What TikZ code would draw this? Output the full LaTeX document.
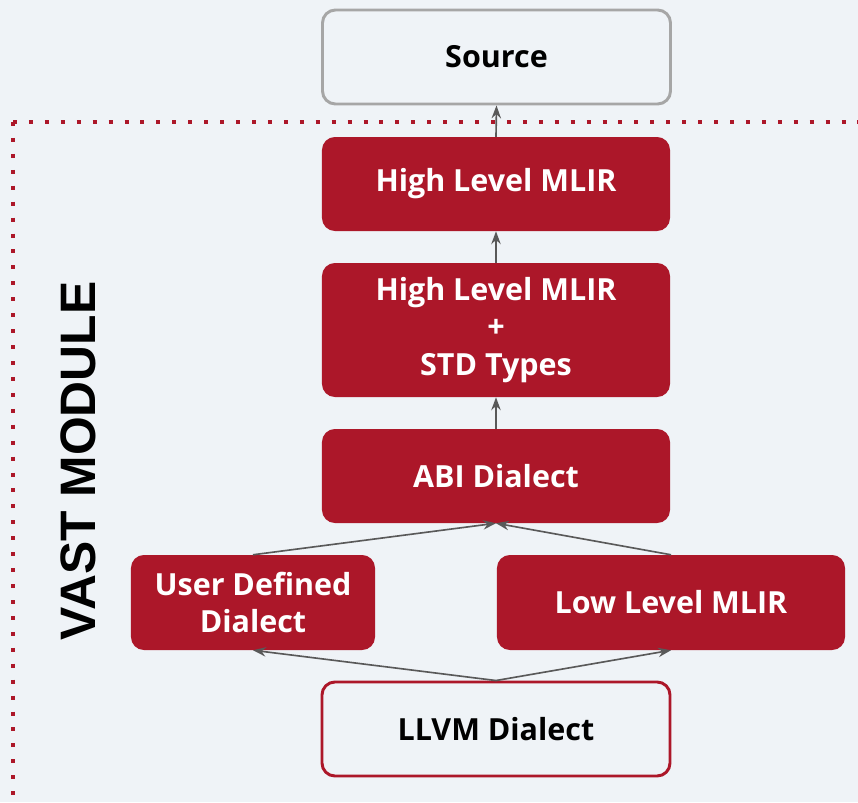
\documentclass[tikz,border=0pt]{standalone}
\usepackage{fontspec}
\setmainfont{Open Sans}
\newfontfamily\titlefont{Liberation Sans}
\usetikzlibrary{arrows.meta}

\definecolor{vastred}{RGB}{172,23,41}
\definecolor{bggray}{RGB}{239,243,247}
\definecolor{edgegray}{RGB}{166,166,166}
\definecolor{arrowgray}{RGB}{89,89,89}

\begin{document}
\begin{tikzpicture}[x=0.03cm,y=-0.03cm,
    block/.style={rectangle, rounded corners=11pt, minimum width=10.44cm, minimum height=2.82cm,
        align=center, font=\bfseries\fontsize{26}{32.3}\selectfont},
    redblock/.style={block, fill=vastred, text=white},
    outblock/.style={block, fill=bggray, line width=2.5pt},
    flow/.style={draw=arrowgray, line width=1.4pt, -{Stealth[length=11pt,width=8pt]}}]

    % Canvas and background
    \useasboundingbox (0,0) rectangle (858,802);
    \fill[bggray] (0,0) rectangle (858,802);

    % Dotted module frame
    \begin{scope}
        \clip (0,0) rectangle (858,802);
        \draw[vastred, line width=3.4pt, dash pattern=on 3.4pt off 10.2pt] (13,122) -- (880,122);
        \draw[vastred, line width=3.4pt, dash pattern=on 3.4pt off 10.2pt] (13,122) -- (13,830);
    \end{scope}

    % Blocks
    \node[outblock, draw=edgegray] (src) at (496.5,57) {Source};
    \node[redblock] (hl) at (496,184) {High Level MLIR};
    \node[redblock, minimum height=4.02cm] (hlstd) at (496,330) {High Level MLIR\\+\\STD Types};
    \node[redblock] (abi) at (496,476) {ABI Dialect};
    \node[redblock, minimum width=7.32cm, minimum height=2.85cm] (udd) at (253,602.5) {User Defined\\Dialect};
    \node[redblock, minimum height=2.85cm] (llm) at (671,602.5) {Low Level MLIR};
    \node[outblock, draw=vastred] (llvm) at (496,729) {LLVM Dialect};

    % Module label
    \node[rotate=90, font=\titlefont\bfseries\fontsize{42.5}{42.5}\selectfont] (vast) at (78,461) {VAST MODULE};

    % Lowering arrows
    \draw[flow] (hl.north) -- (src.south);
    \draw[flow] (hlstd.north) -- (hl.south);
    \draw[flow] (abi.north) -- (hlstd.south);
    \draw[flow] (udd.north) -- (abi.south);
    \draw[flow] (llm.north) -- (abi.south);
    \draw[flow] (llvm.north) -- (udd.south);
    \draw[flow] (llvm.north) -- (llm.south);

\end{tikzpicture}
\end{document}
